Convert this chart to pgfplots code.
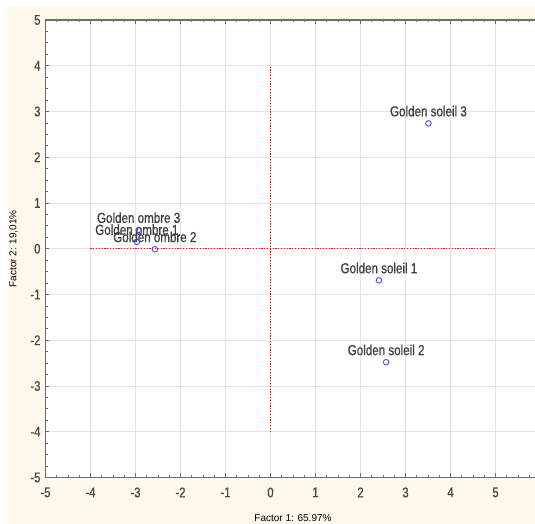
\documentclass[border=0pt]{standalone}
\usepackage{pgfplots}
\pgfplotsset{compat=1.18}
\usepackage{fontspec}
\setmainfont{Liberation Sans}
\newfontfamily\nf[FakeStretch=0.8, FakeBold=0.8]{Liberation Sans}
\definecolor{cream}{HTML}{FFF8EC}
\definecolor{axgray}{HTML}{6E6E6E}
\definecolor{gridgray}{HTML}{E4E4E4}
\definecolor{ptblue}{HTML}{4A4AFF}
\begin{document}
\begin{tikzpicture}[x=1pt,y=1pt]
\useasboundingbox (-45.5,-46.5) rectangle (489.5,477.5);
\clip (-45.5,-46.5) rectangle (489.5,477.5);
\fill[white] (-45.5,-46.5) rectangle (489.5,477.5);
\fill[cream] (-38,-46.5) rectangle (489.5,470);
\begin{axis}[
  at={(0,0)}, anchor=south west,
  scale only axis, width=495pt, height=457.5pt,
  xmin=-5, xmax=6, ymin=-5, ymax=5,
  xtick={-5,-4,...,6}, ytick={-5,-4,...,5},
  minor tick num=3,
  grid=major,
  major grid style={gridgray, line width=0.9pt},
  axis line style={axgray, line width=1.1pt},
  tick style={axgray, line width=0.8pt},
  major tick length=4pt, minor tick length=2.5pt,
  tick align=inside,
  axis background/.style={fill=white},
  /pgf/number format/assume math mode=true,
  ticklabel style={font=\nf\fontsize{14}{16}\selectfont, text=black!72},
  xticklabel style={yshift=-6.5pt},
  yticklabel style={xshift=-1.5pt},
  xlabel={Factor 1: 65.97\%},
  ylabel={Factor 2: 19,01\%},
  label style={font=\nf\fontsize{14.5}{16}\selectfont, text=black!75},
  every axis x label/.style={at={(axis description cs:0.5,-0.0885)}, anchor=center},
  every axis y label/.style={at={(axis description cs:-0.0646,0.5)}, rotate=90, anchor=center},
]
\addplot[red, line width=0.8pt, dash pattern=on 1.2pt off 1.6pt] coordinates {(-4,0) (5,0)};
\addplot[red, line width=0.8pt, dash pattern=on 1.2pt off 1.6pt] coordinates {(0,-4) (0,4)};
\addplot[only marks, mark=o, mark size=2.8pt, draw=ptblue,
  mark options={line width=0.9pt, draw=ptblue},
  nodes near coords, point meta=explicit symbolic,
  every node near coord/.style={font=\nf\fontsize{14.5}{16}\selectfont, text=black!75, anchor=south, inner sep=0pt, yshift=6.5pt}]
coordinates {
  (2.41,-0.69) [Golden soleil 1]
  (2.57,-2.48) [Golden soleil 2]
  (3.51,2.74) [Golden soleil 3]
  (-2.97,0.15) [Golden ombre 1]
  (-2.57,-0.01) [Golden ombre 2]
  (-2.93,0.41) [Golden ombre 3]
};
\end{axis}
\end{tikzpicture}
\end{document}
